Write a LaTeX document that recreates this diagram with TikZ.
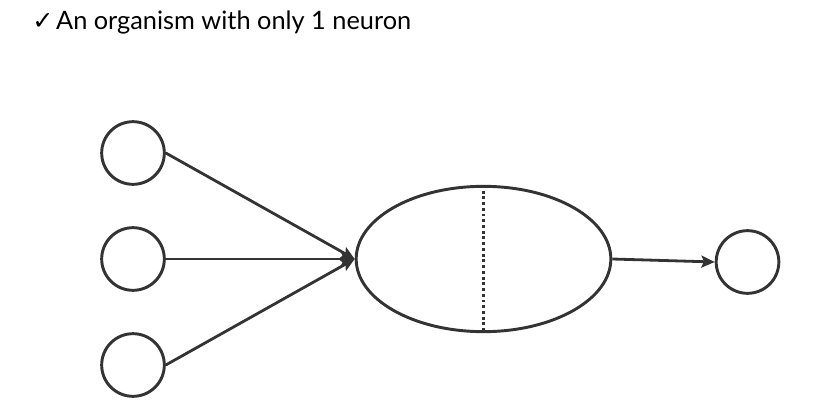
\documentclass[tikz,border=0pt]{standalone}
\usepackage{fontspec}
\setmainfont{Lato}
\newfontfamily\symfont{DejaVu Sans}
\usetikzlibrary{shapes.geometric,arrows.meta}
\definecolor{ink}{HTML}{333333}
\begin{document}
\begin{tikzpicture}[x=0.75pt,y=-0.75pt,
  unit/.style={circle,draw=ink,line width=2.2pt,minimum size=47pt,inner sep=0pt},
  body/.style={ellipse,draw=ink,line width=2.2pt,minimum width=191pt,minimum height=109pt,inner sep=0pt},
  conn/.style={draw=ink,line width=2.1pt,-{Stealth[length=10pt,width=9pt,inset=2pt]}},
  divider/.style={draw=ink,line width=2.4pt,dash pattern=on 2.2pt off 2.1pt}
]
\useasboundingbox (0,0) rectangle (834,413);
\node[anchor=base west,inner sep=0pt,text=black,font=\fontsize{19}{22}\selectfont] (title) at (32,30) {{\symfont\fontsize{19}{22}\selectfont ✓}\hspace{2pt}An organism with only 1 neuron};
\node[unit] (i1) at (133,153) {};
\node[unit] (i2) at (133,259) {};
\node[unit] (i3) at (133,365) {};
\node[body] (n) at (483.5,259) {};
\node[unit] (o) at (747.5,262) {};
\draw[divider] (n.north) -- (n.south);
\draw[conn] (i1.east) -- (n.west);
\draw[conn] (i2.east) -- (n.west);
\draw[conn] (i3.east) -- (n.west);
\draw[conn] (n.east) -- (o.west);
\end{tikzpicture}
\end{document}
